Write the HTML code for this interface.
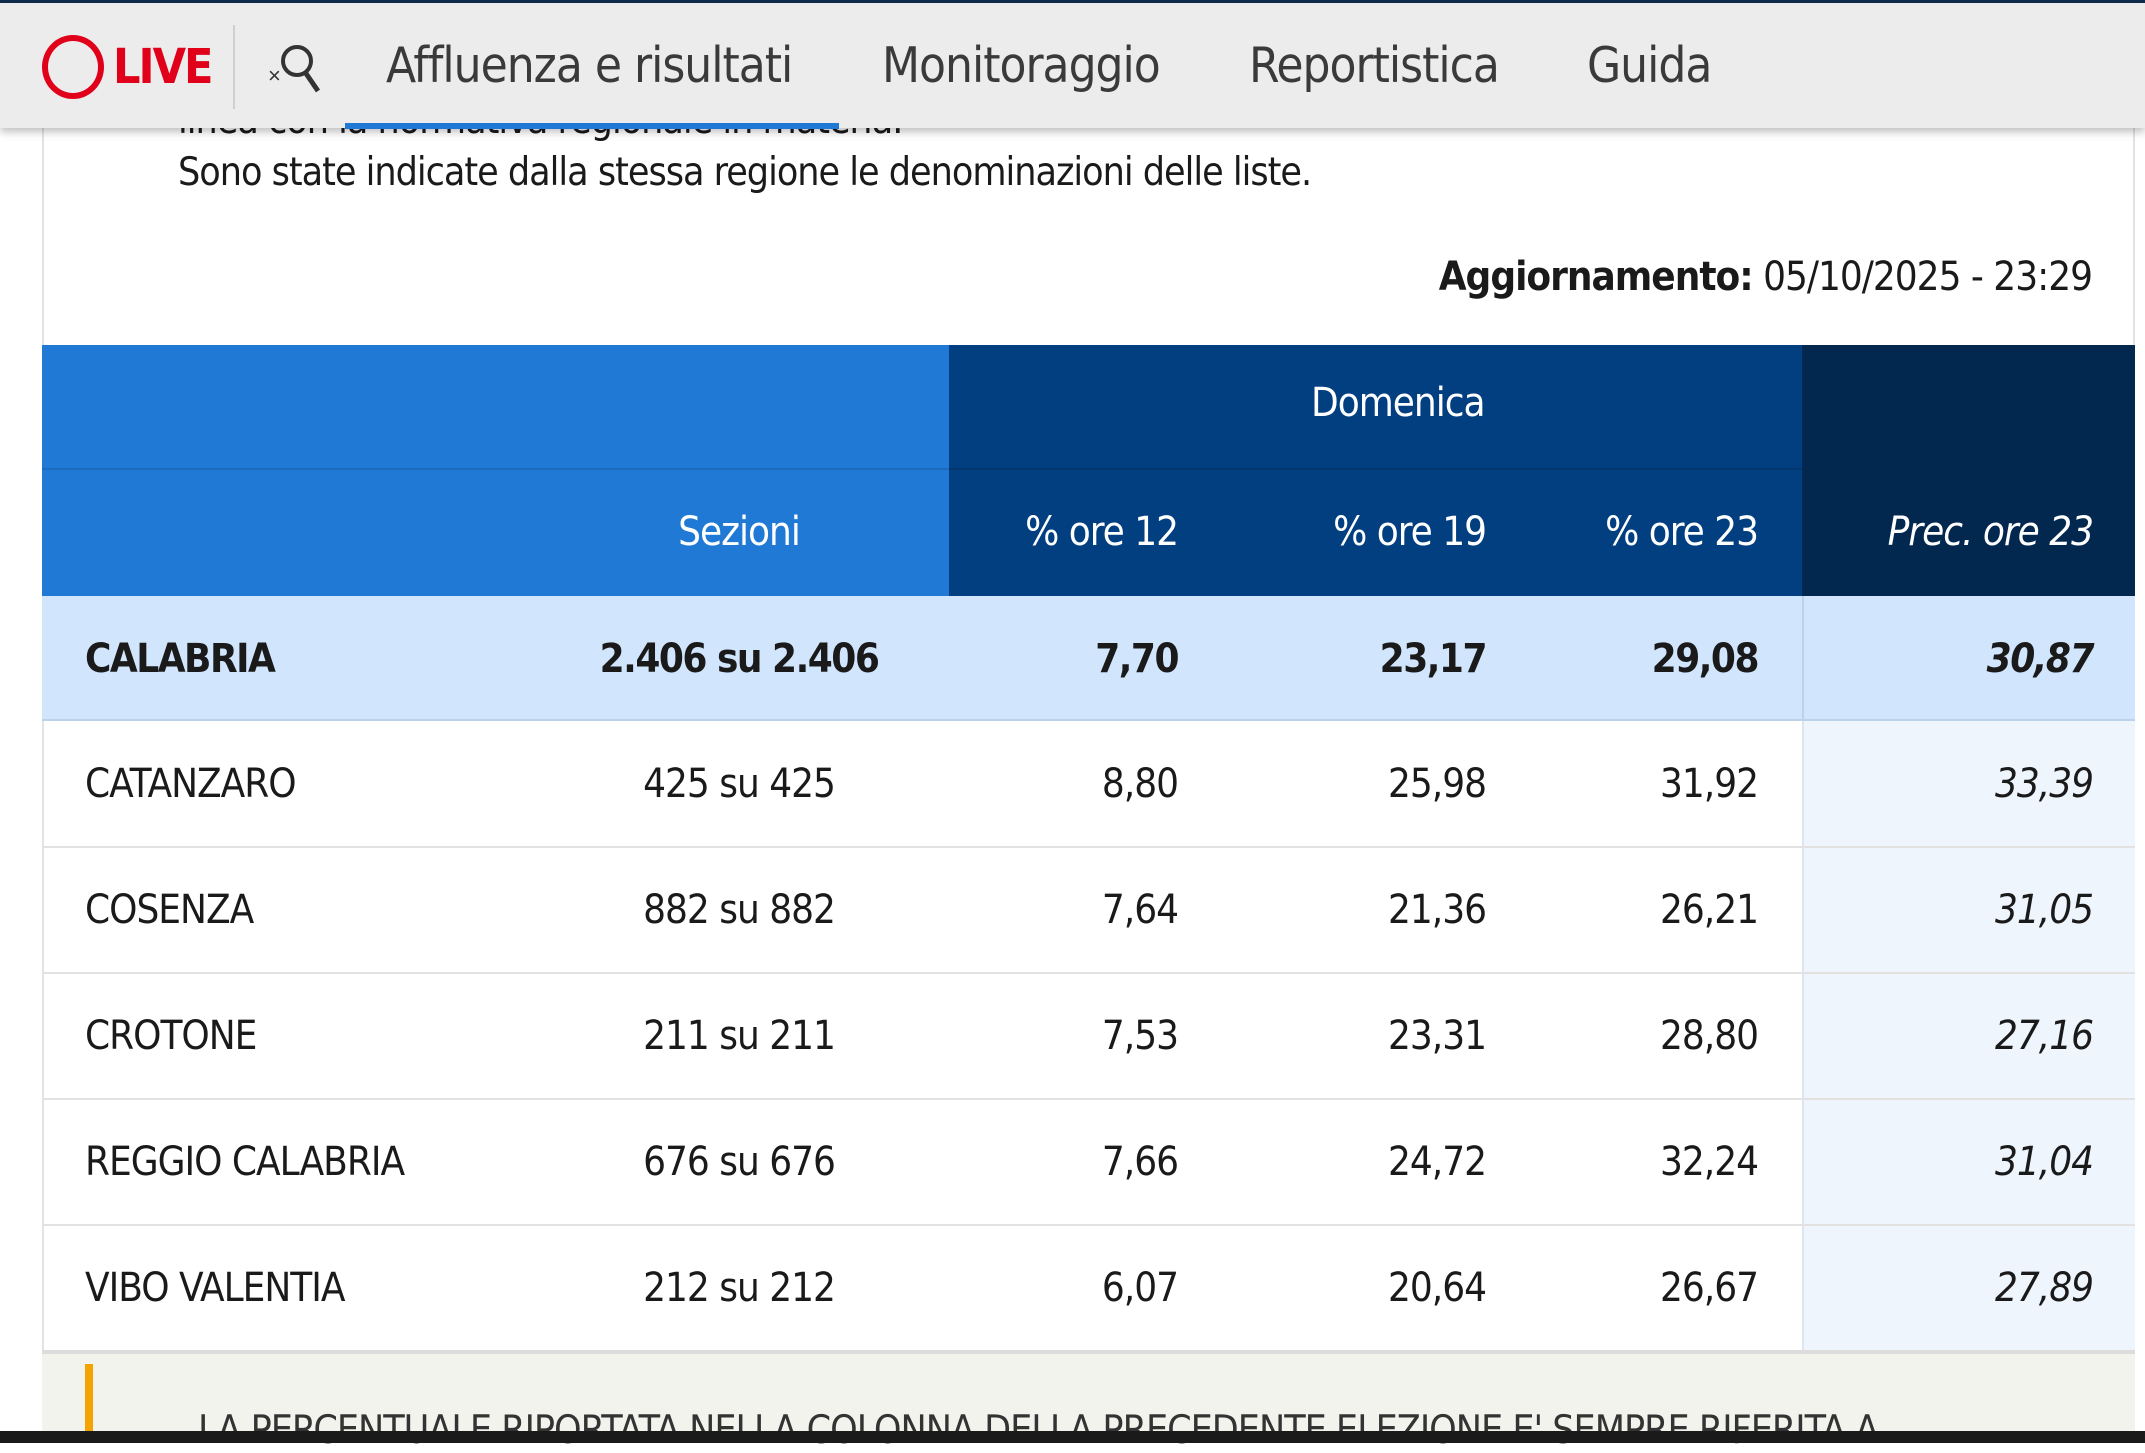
<!DOCTYPE html>
<html><head><meta charset="utf-8"><style>
*{margin:0;padding:0;box-sizing:border-box}
body{width:2145px;height:1443px;overflow:hidden;background:#fff;font-family:"Liberation Sans Narrow","DejaVu Sans Condensed","Liberation Sans",sans-serif;color:#1a1a1a;position:relative;letter-spacing:-1px}
.a{position:absolute;white-space:nowrap}
.card{position:absolute;left:42px;top:0;width:2093px;height:1443px;border-left:2px solid #e3e3e3;border-right:2px solid #e3e3e3;background:#fff}
.nav{position:absolute;left:0;top:0;width:2145px;height:128px;background:#ececec;border-top:3px solid #0d2a4a;box-shadow:0 4px 8px rgba(0,0,0,.25);z-index:5}
.nav .t{font-size:49px;color:#3a3a3a;top:34px}
.cell{position:absolute;height:126px;line-height:126px;font-size:40px}
.r{text-align:right}
</style></head><body>
<div class="card"></div>
<div class="a" style="left:178px;top:98px;font-size:39px">linea con la normativa regionale in materia.</div>
<div class="a" style="left:178px;top:150px;font-size:39px">Sono state indicate dalla stessa regione le denominazioni delle liste.</div>
<div class="a" style="right:53px;top:254px;font-size:40px"><b>Aggiornamento:</b> 05/10/2025 - 23:29</div>

<div class="nav">
 <div class="a" style="left:42px;top:32px;width:62px;height:64px;border:6px solid #e1001a;border-radius:50%"></div>
 <div class="a" style="left:113px;top:36px;font-size:48px;font-weight:bold;color:#e1001a;letter-spacing:-2px">LIVE</div>
 <div class="a" style="left:233px;top:22px;width:2px;height:84px;background:#d0d0d0"></div>
 <svg class="a" style="left:266px;top:38px" width="58" height="56" viewBox="0 0 58 56"><circle cx="31" cy="20" r="14" fill="none" stroke="#333" stroke-width="4"/><line x1="39" y1="31" x2="52" y2="50" stroke="#333" stroke-width="5"/><text x="2" y="42" font-size="22" fill="#333" font-family="Liberation Sans">×</text></svg>
 <div class="a t" style="left:386px">Affluenza e risultati</div>
 <div class="a t" style="left:882px">Monitoraggio</div>
 <div class="a t" style="left:1249px">Reportistica</div>
 <div class="a t" style="left:1587px">Guida</div>
 <div class="a" style="left:345px;top:120px;width:494px;height:6px;background:#1f78d4"></div>
</div>

<div class="a" style="left:42px;top:345px;width:907px;height:251px;background:#2079d5"></div>
<div class="a" style="left:42px;top:468px;width:907px;height:2px;background:#1b6cc0"></div>
<div class="a" style="left:949px;top:345px;width:853px;height:251px;background:#023f80"></div>
<div class="a" style="left:949px;top:468px;width:853px;height:2px;background:#03386f"></div>
<div class="a" style="left:1802px;top:345px;width:333px;height:251px;background:#03284f"></div>
<div class="a" style="left:1311px;top:380px;font-size:40px;color:#fff">Domenica</div>
<div class="cell" style="left:600px;width:278px;top:469px;text-align:center;color:#fff">Sezioni</div>
<div class="cell r" style="right:967px;top:469px;color:#fff">% ore 12</div>
<div class="cell r" style="right:659px;top:469px;color:#fff">% ore 19</div>
<div class="cell r" style="right:387px;top:469px;color:#fff">% ore 23</div>
<div class="cell r" style="right:52px;top:469px;color:#fff;font-style:italic">Prec. ore 23</div>

<div class="a" style="left:42px;top:596px;width:2093px;height:125px;background:#d1e5fc;border-bottom:2px solid #bcd2ea"></div>
<div class="a" style="left:1802px;top:721px;width:333px;height:630px;background:#eef5fd;border-left:2px solid #dde6f0"></div>
<div class="a" style="left:1802px;top:596px;width:2px;height:125px;background:#bcd2ea"></div>
<div class="a" style="left:42px;top:846px;width:2093px;height:2px;background:#e2e2e2"></div>
<div class="a" style="left:42px;top:972px;width:2093px;height:2px;background:#e2e2e2"></div>
<div class="a" style="left:42px;top:1098px;width:2093px;height:2px;background:#e2e2e2"></div>
<div class="a" style="left:42px;top:1224px;width:2093px;height:2px;background:#e2e2e2"></div>
<div class="a" style="left:42px;top:1350px;width:2093px;height:4px;background:#dcdcdc"></div>

<div style="font-weight:bold;letter-spacing:-1.5px">
<div class="cell" style="left:85px;top:596px">CALABRIA</div>
<div class="cell" style="left:540px;width:398px;top:596px;text-align:center">2.406 su 2.406</div>
<div class="cell r" style="right:967px;top:596px">7,70</div>
<div class="cell r" style="right:659px;top:596px">23,17</div>
<div class="cell r" style="right:387px;top:596px">29,08</div>
<div class="cell r" style="right:52px;top:596px;font-style:italic">30,87</div>
</div>

<div class="cell" style="left:85px;top:721px">CATANZARO</div>
<div class="cell" style="left:540px;width:398px;top:721px;text-align:center">425 su 425</div>
<div class="cell r" style="right:967px;top:721px">8,80</div>
<div class="cell r" style="right:659px;top:721px">25,98</div>
<div class="cell r" style="right:387px;top:721px">31,92</div>
<div class="cell r" style="right:52px;top:721px;font-style:italic">33,39</div>

<div class="cell" style="left:85px;top:847px">COSENZA</div>
<div class="cell" style="left:540px;width:398px;top:847px;text-align:center">882 su 882</div>
<div class="cell r" style="right:967px;top:847px">7,64</div>
<div class="cell r" style="right:659px;top:847px">21,36</div>
<div class="cell r" style="right:387px;top:847px">26,21</div>
<div class="cell r" style="right:52px;top:847px;font-style:italic">31,05</div>

<div class="cell" style="left:85px;top:973px">CROTONE</div>
<div class="cell" style="left:540px;width:398px;top:973px;text-align:center">211 su 211</div>
<div class="cell r" style="right:967px;top:973px">7,53</div>
<div class="cell r" style="right:659px;top:973px">23,31</div>
<div class="cell r" style="right:387px;top:973px">28,80</div>
<div class="cell r" style="right:52px;top:973px;font-style:italic">27,16</div>

<div class="cell" style="left:85px;top:1099px">REGGIO CALABRIA</div>
<div class="cell" style="left:540px;width:398px;top:1099px;text-align:center">676 su 676</div>
<div class="cell r" style="right:967px;top:1099px">7,66</div>
<div class="cell r" style="right:659px;top:1099px">24,72</div>
<div class="cell r" style="right:387px;top:1099px">32,24</div>
<div class="cell r" style="right:52px;top:1099px;font-style:italic">31,04</div>

<div class="cell" style="left:85px;top:1225px">VIBO VALENTIA</div>
<div class="cell" style="left:540px;width:398px;top:1225px;text-align:center">212 su 212</div>
<div class="cell r" style="right:967px;top:1225px">6,07</div>
<div class="cell r" style="right:659px;top:1225px">20,64</div>
<div class="cell r" style="right:387px;top:1225px">26,67</div>
<div class="cell r" style="right:52px;top:1225px;font-style:italic">27,89</div>

<div class="a" style="left:42px;top:1354px;width:2093px;height:89px;background:#f3f3ee"></div>
<div class="a" style="left:85px;top:1364px;width:8px;height:79px;background:#f5a300"></div>
<div class="a" style="left:198px;top:1408px;font-size:39px;color:#333">LA PERCENTUALE RIPORTATA NELLA COLONNA DELLA PRECEDENTE ELEZIONE E' SEMPRE RIFERITA A</div>
<div class="a" style="left:0;top:1431px;width:2145px;height:12px;background:#1a1a1a"></div>
</body></html>
